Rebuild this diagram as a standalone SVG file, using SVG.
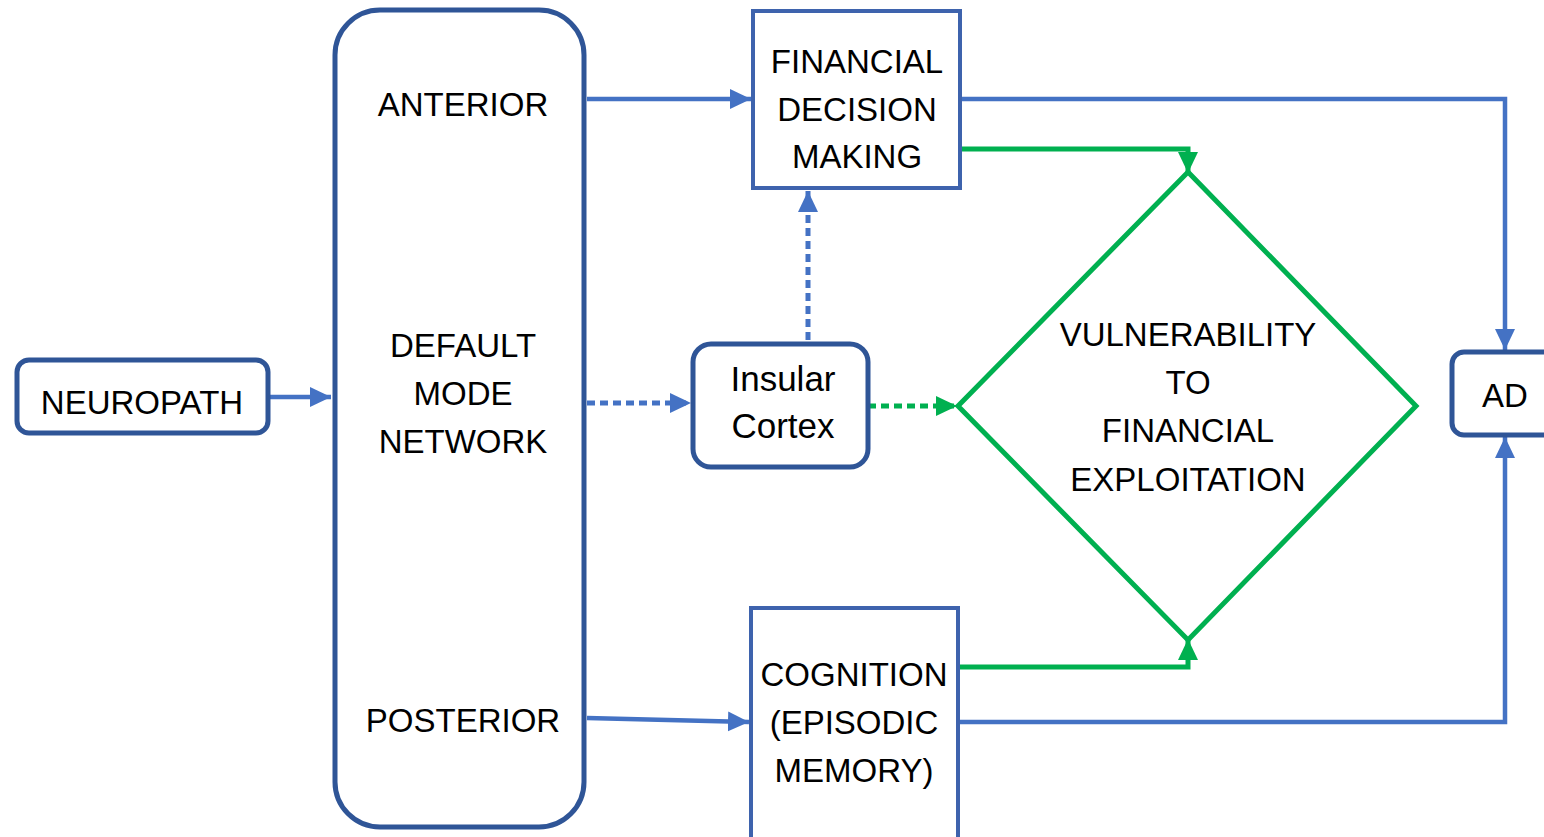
<svg xmlns="http://www.w3.org/2000/svg" width="1544" height="837" viewBox="0 0 1544 837">
<style>
.t{font-family:"Liberation Sans",Arial,sans-serif;font-size:33px;fill:#000;text-anchor:middle}
.nd{fill:#fff;stroke:#2F5597;stroke-width:5}
.bx{fill:#fff;stroke:#3E63AD;stroke-width:4}
.b{fill:none;stroke:#4472C4;stroke-width:4.5}
.g{fill:none;stroke:#00B050;stroke-width:5}
.bd{fill:none;stroke:#4472C4;stroke-width:5;stroke-dasharray:8 5}
.gd{fill:none;stroke:#00B050;stroke-width:5;stroke-dasharray:8 5}
</style>
<defs>
<marker id="ab" markerUnits="userSpaceOnUse" markerWidth="22" markerHeight="22" viewBox="0 0 22 22" refX="21" refY="11" orient="auto"><path d="M0,1 L21,11 L0,21 Z" fill="#4472C4"/></marker>
<marker id="ag" markerUnits="userSpaceOnUse" markerWidth="22" markerHeight="22" viewBox="0 0 22 22" refX="21" refY="11" orient="auto"><path d="M0,1 L21,11 L0,21 Z" fill="#00B050"/></marker>
</defs>
<rect width="1544" height="837" fill="#fff"/>
<g id="connectors">
<line class="b" x1="268" y1="397" x2="331" y2="397" marker-end="url(#ab)"/>
<line class="b" x1="587" y1="99" x2="751" y2="99" marker-end="url(#ab)"/>
<line class="b" x1="587" y1="718" x2="749" y2="722" marker-end="url(#ab)"/>
<line class="bd" x1="587" y1="403" x2="691" y2="403" marker-end="url(#ab)"/>
<line class="bd" x1="808" y1="340" x2="808" y2="191" marker-end="url(#ab)"/>
<line class="gd" x1="868" y1="406" x2="957" y2="406" marker-end="url(#ag)"/>
<polyline class="b" points="961,99 1505,99 1505,350" marker-end="url(#ab)"/>
<polyline class="g" points="962,149 1188,149 1188,173" marker-end="url(#ag)"/>
<polyline class="g" points="960,667 1188,667 1188,639" marker-end="url(#ag)"/>
<polyline class="b" points="960,722 1505,722 1505,437" marker-end="url(#ab)"/>
</g>
<g id="neuropath">
<rect class="nd" x="17" y="360" width="251" height="73" rx="12"/>
<text class="t" x="142" y="414">NEUROPATH</text>
</g>
<g id="dmn">
<rect class="nd" x="335" y="10" width="249" height="817" rx="45"/>
<text class="t" x="463" y="116">ANTERIOR</text>
<text class="t" x="463" y="357">DEFAULT</text>
<text class="t" x="463" y="405">MODE</text>
<text class="t" x="463" y="453">NETWORK</text>
<text class="t" x="463" y="732">POSTERIOR</text>
</g>
<g id="fdm">
<rect class="bx" x="753" y="11" width="207" height="177"/>
<text class="t" x="857" y="73">FINANCIAL</text>
<text class="t" x="857" y="121">DECISION</text>
<text class="t" x="857" y="168">MAKING</text>
</g>
<g id="insular">
<rect class="nd" x="693" y="344" width="175" height="123" rx="18"/>
<text class="t" x="783" y="391" style="font-size:35px">Insular</text>
<text class="t" x="783" y="438" style="font-size:35px">Cortex</text>
</g>
<g id="vulnerability">
<polygon points="1188,172 1416,406 1188,640 958,406" fill="#fff" stroke="#00B050" stroke-width="5"/>
<text class="t" x="1188" y="346">VULNERABILITY</text>
<text class="t" x="1188" y="394">TO</text>
<text class="t" x="1188" y="442">FINANCIAL</text>
<text class="t" x="1188" y="491">EXPLOITATION</text>
</g>
<g id="cognition">
<rect class="bx" x="751" y="608" width="207" height="240"/>
<text class="t" x="854" y="686">COGNITION</text>
<text class="t" x="854" y="734">(EPISODIC</text>
<text class="t" x="854" y="782">MEMORY)</text>
</g>
<g id="ad">
<rect class="nd" x="1452" y="352" width="110" height="83" rx="12"/>
<text class="t" x="1505" y="407">AD</text>
</g>
</svg>
